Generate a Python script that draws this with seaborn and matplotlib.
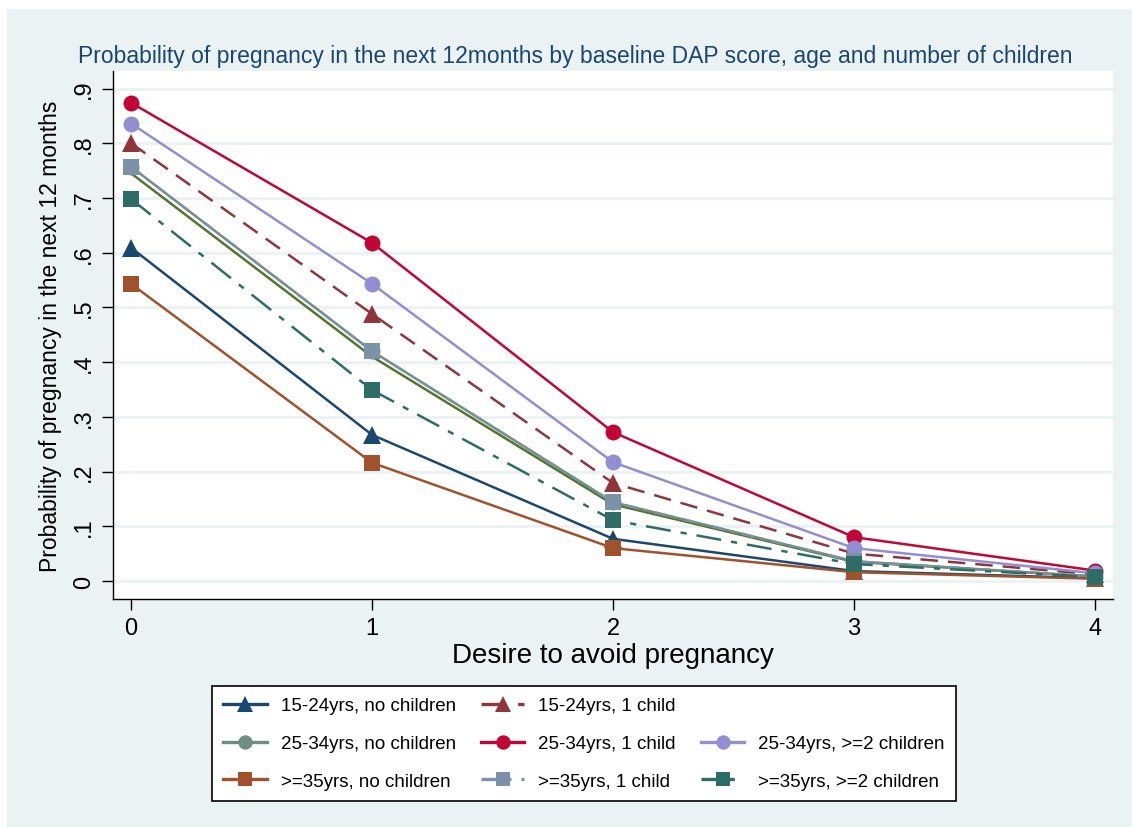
import numpy as np
import pandas as pd
import matplotlib
matplotlib.use("Agg")
import matplotlib.pyplot as plt
from matplotlib.lines import Line2D
from matplotlib.patches import Rectangle
import seaborn as sns

# Desire to avoid pregnancy (DAP) score
dap = [0, 1, 2, 3, 4]

# predicted probabilities
p_1524_none = [0.609, 0.267, 0.077, 0.018, 0.005]
p_1524_one = [0.800, 0.488, 0.179, 0.050, 0.012]
p_1524_two = [0.745, 0.410, 0.140, 0.035, 0.008]   # olive line, no legend key
p_2534_none = [0.757, 0.420, 0.144, 0.036, 0.008]
p_2534_one = [0.874, 0.618, 0.272, 0.080, 0.019]
p_2534_two = [0.836, 0.543, 0.217, 0.060, 0.014]
p_35_none = [0.543, 0.216, 0.060, 0.016, 0.004]
p_35_one = [0.757, 0.420, 0.144, 0.036, 0.008]
p_35_two = [0.698, 0.349, 0.111, 0.031, 0.007]

labels = ["15-24yrs, no children", "15-24yrs, 1 child", "",
          "25-34yrs, no children", "25-34yrs, 1 child", "25-34yrs, >=2 children",
          ">=35yrs, no children", ">=35yrs, 1 child", ">=35yrs, >=2 children"]

# stata s2color-ish palette
styles = [
    dict(color="#1a476f", marker="^", ms=13, ls="-"),
    dict(color="#90353b", marker="^", ms=13, ls=(0, (7, 4))),
    dict(color="#55752f", marker=None, ms=0, ls="-"),
    dict(color="#6e8e84", marker="o", ms=11.5, ls="-"),
    dict(color="#c10534", marker="o", ms=11.5, ls="-"),
    dict(color="#938dd2", marker="o", ms=11.5, ls="-"),
    dict(color="#a0522d", marker="s", ms=11.5, ls="-"),
    dict(color="#7b92a8", marker="s", ms=11.5, ls=(0, (5, 3, 1, 3))),
    dict(color="#2d6d66", marker="s", ms=11.5, ls=(0, (10, 4, 2.5, 4))),
]
series = [p_1524_none, p_1524_one, p_1524_two, p_2534_none, p_2534_one,
          p_2534_two, p_35_none, p_35_one, p_35_two]
# draw order: teal circles go under the squares / olive line
draw_order = [3, 0, 1, 2, 4, 5, 6, 7, 8]

bg = "#eaf2f3"
plt.rcParams['font.family'] = ['Liberation Sans', 'DejaVu Sans']

fig = plt.figure(figsize=(11.32, 8.28), dpi=100)
fig.patch.set_facecolor("white")
fig.add_artist(Rectangle((7 / 1132, 0), 1, 1 - 10 / 828, transform=fig.transFigure,
                         facecolor=bg, edgecolor="none", zorder=-10))

ax = fig.add_axes([113 / 1132, 1 - 600 / 828, 1000 / 1132, 528 / 828])
ax.set_facecolor("white")

handles = {}
for i in draw_order:
    st = styles[i]
    df = pd.DataFrame({"dap": dap, "p": series[i]})
    sns.lineplot(data=df, x="dap", y="p", ax=ax, color=st["color"],
                 linestyle=st["ls"], linewidth=1.8, marker=st["marker"],
                 markersize=st["ms"], markeredgewidth=0, zorder=3 + i)
    handles[i] = Line2D([0], [0], color=st["color"], linestyle=st["ls"], linewidth=2.4,
                        marker=st["marker"], markersize=st["ms"] * 0.9, markeredgewidth=0)

ax.set_xlim(-0.075, 4.075)
ax.set_ylim(-0.033, 0.932)
yt = [0, 0.1, 0.2, 0.3, 0.4, 0.5, 0.6, 0.7, 0.8, 0.9]
ax.set_yticks(yt)
ax.set_yticklabels(["0", ".1", ".2", ".3", ".4", ".5", ".6", ".7", ".8", ".9"],
                   rotation=90, va="center")
ax.set_xticks(dap)
ax.tick_params(axis="both", labelsize=17, length=8, width=1, color="black", pad=5)
ax.grid(axis="y", color=bg, linewidth=2)
ax.grid(axis="x", visible=False)
ax.set_axisbelow(True)
for s in ["top", "right"]:
    ax.spines[s].set_visible(False)
for s in ["left", "bottom"]:
    ax.spines[s].set_color("black")
    ax.spines[s].set_linewidth(1)

ax.set_xlabel("Desire to avoid pregnancy", fontsize=20, labelpad=2)
ax.set_ylabel("Probability of pregnancy in the next 12 months", fontsize=16.5, labelpad=8)

fig.text(0.508, 1 - 57 / 828,
         "Probability of pregnancy in the next 12months by baseline DAP score, age and number of children",
         ha="center", va="center", fontsize=16.5, color="#1a476f")

# legend: 3x3, filled column-wise, empty slot top right
blank = Line2D([0], [0], color="none")
col_order = [0, 3, 6, 1, 4, 7, 2, 5, 8]
leg_h = [blank if i == 2 else handles[i] for i in col_order]
leg_l = [labels[i] for i in col_order]
leg = fig.legend(leg_h, leg_l, ncol=3, loc="center", bbox_to_anchor=(0.516, 0.1008),
                 fontsize=13.5, frameon=True, fancybox=False, edgecolor="black",
                 facecolor="white", framealpha=1, handlelength=2.3, handletextpad=0.75,
                 columnspacing=1.35, labelspacing=1.1, borderpad=0.6)
leg.get_frame().set_linewidth(1.2)

fig.savefig("out.png", dpi=100)
